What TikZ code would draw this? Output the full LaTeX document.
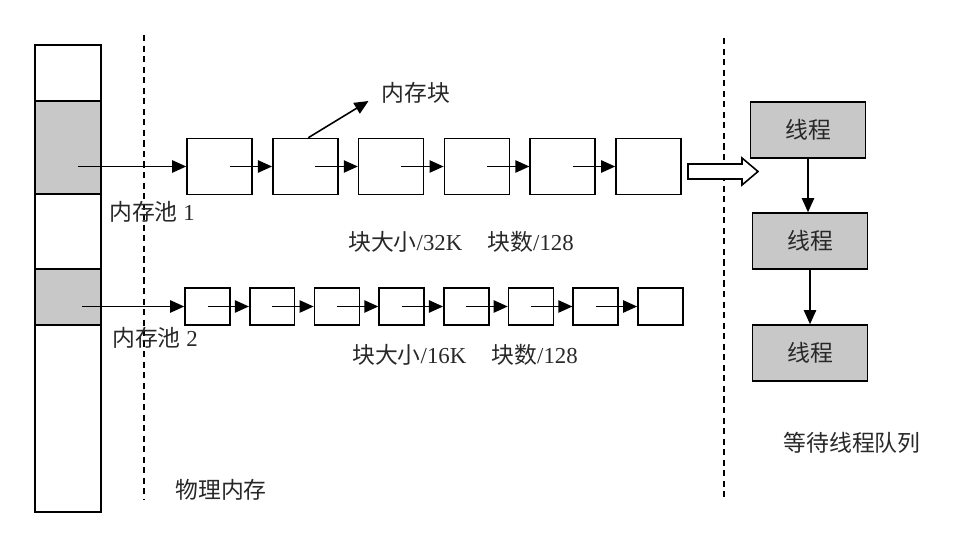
\documentclass[tikz,border=0pt]{standalone}
\usepackage{fontspec}
\setmainfont{Liberation Serif}
\newfontfamily\cjk{Noto Sans CJK SC}
\usetikzlibrary{arrows.meta}
\definecolor{poolgray}{RGB}{200,200,200}
\definecolor{txtgray}{RGB}{40,40,40}
\tikzset{
  box/.style={draw, line width=0.9pt, inner sep=0pt},
  bigblk/.style={box, minimum width=1.3cm, minimum height=1.12cm},
  smallblk/.style={box, minimum width=0.9cm, minimum height=0.74cm},
  pool/.style={box, fill=poolgray, minimum width=1.32cm},
  thread/.style={box, fill=poolgray, minimum width=2.3cm, minimum height=1.12cm,
    font=\cjk\fontsize{13}{15}\selectfont, text=txtgray},
  lbl/.style={font=\fontsize{13}{15}\selectfont, text=txtgray},
  link/.style={line width=0.9pt, -{Triangle[length=8pt,width=7pt]}},
  divider/.style={line width=0.8pt, dash pattern=on 3.5pt off 2.5pt},
}

\begin{document}
\begin{tikzpicture}[x=0.02cm, y=-0.02cm]
  \useasboundingbox (0,0) rectangle (972,546);

  % physical memory column
  \node[box, minimum width=1.32cm, minimum height=9.34cm] (col) at (68,278.5) {};
  \node[pool, minimum height=1.86cm] (pool1) at (68,147.5) {};
  \node[pool, minimum height=1.12cm] (pool2) at (68,297) {};

  \draw[divider] (144,35) -- (144,500);
  \draw[divider] (724,38) -- (724,500);

  % pool 1: 32K blocks
  \foreach \i in {1,...,6}
    \node[bigblk] (a\i) at ({219.5+85.8*(\i-1)},166.5) {};
  \foreach \j [count=\i] in {2,...,6}
    \draw[link] ([xshift=0.2cm]a\i.center) -- (a\j.west);
  \coordinate (e1) at (78,166.5);
  \draw[link] (e1) -- (a1.west);

  % pool 2: 16K blocks
  \foreach \i in {1,...,8}
    \node[smallblk] (b\i) at ({207.5+64.7*(\i-1)},306.5) {};
  \foreach \j [count=\i] in {2,...,8}
    \draw[link] (b\i.center) -- (b\j.west);
  \coordinate (e2) at (82,306.5);
  \draw[link] (e2) -- (b1.west);

  % labels
  \node[lbl] (mk) at (416,93) {{\cjk 内存块}};
  \draw[link] ([xshift=0.06cm]a2.north) -- ([shift={(-7,8)}]mk.west);
  \node[lbl] (name1) at (152,212) {{\cjk 内存池} 1};
  \node[lbl] (name2) at (155,338) {{\cjk 内存池} 2};
  \node[lbl] (size1) at (461,242) {{\cjk 块大小}/32K\hspace{1.1em}{\cjk 块数}/128};
  \node[lbl] (size2) at (465,355) {{\cjk 块大小}/16K\hspace{1.1em}{\cjk 块数}/128};
  \node[lbl] (phys) at (221,490) {{\cjk 物理内存}};

  % hollow arrow to thread queue
  \draw[line width=0.9pt, fill=white] (688,164) -- (742,164) -- (742,158) -- (758,171.5)
    -- (742,185) -- (742,179) -- (688,179) -- cycle;

  % waiting thread queue
  \node[thread] (t1) at (808,130) {线程};
  \node[thread] (t2) at (810,241) {线程};
  \node[thread] (t3) at (810,353) {线程};
  \draw[link] (t1.south) -- (t1.south |- t2.north);
  \draw[link] (t2.south) -- (t2.south |- t3.north);
  \node[lbl] (queue) at (852,443) {{\cjk 等待线程队列}};
\end{tikzpicture}
\end{document}
